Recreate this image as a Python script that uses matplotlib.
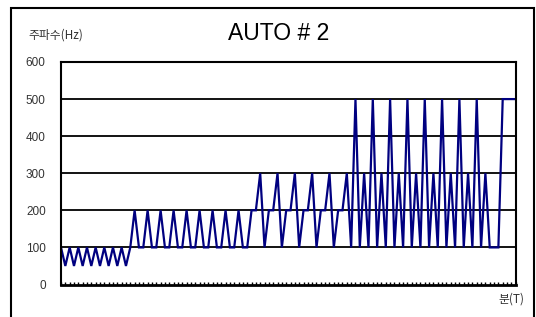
import matplotlib.pyplot as plt
from matplotlib.patches import Rectangle

# frequency (Hz) per time step
freq_low = [100, 50, 100, 50, 100, 50, 100, 50, 100, 50, 100, 50, 100, 50, 100, 50]
freq_mid = [100,
            200, 100, 100, 200, 100, 100, 200, 100, 100, 200, 100, 100,
            200, 100, 100, 200, 100, 100, 200, 100, 100, 200, 100, 100, 200,
            100, 100, 200, 200]
freq_high = [300, 100, 200, 200, 300, 100, 200, 200, 300, 100, 200, 200,
             300, 100, 200, 200, 300, 100, 200, 200, 300, 100]
freq_top = [500, 100, 300, 100, 500, 100, 300, 100, 500, 100, 300, 100,
            500, 100, 300, 100, 500, 100, 300, 100, 500, 100, 300, 100,
            500, 100, 300, 100, 500, 100, 300,
            100, 100, 100, 500, 500, 500, 500]
freq = freq_low + freq_mid + freq_high + freq_top
steps = list(range(len(freq)))

y_ticks = [0, 100, 200, 300, 400, 500, 600]

title = 'AUTO # 2'
y_label = '주파수(Hz)'
x_label = '분(T)'

kr = ['Noto Sans CJK KR', 'DejaVu Sans']

fig = plt.figure(figsize=(5.36, 3.17), dpi=100)
W, H = 536.0, 317.0

# outer chart frame
fig.patches.append(Rectangle((10.5 / W, -0.05), (533.5 - 10.5) / W, 1.05 - 7.5 / H,
                             transform=fig.transFigure, fill=False, ec='black', lw=1.5))

ax = fig.add_axes([61 / W, 1 - 284.5 / H, (515.7 - 61) / W, (284.5 - 62) / H])

ax.plot(steps, freq, color='#000080', lw=1.6, solid_joinstyle='miter')

ax.set_xlim(0, len(freq) - 1)
ax.set_ylim(0, 600)
ax.set_yticks(y_ticks)
ax.set_yticklabels([str(v) for v in y_ticks], fontsize=8.5, color='#333333',
                   family='Liberation Sans')
ax.tick_params(axis='y', length=0, pad=11)
ax.set_xticks(steps)
ax.set_xticklabels([])
ax.tick_params(axis='x', direction='in', length=2.5, width=1, color='black')

for v in y_ticks[1:-1]:
    ax.axhline(v, color='black', lw=1.3, zorder=1)

for s in ax.spines.values():
    s.set_linewidth(1.5)
ax.spines['bottom'].set_linewidth(2)

fig.text(279 / W, 1 - 33 / H, title, ha='center', va='center', fontsize=16.5,
         family='Liberation Sans')
fig.text(28 / W, 1 - 35 / H, y_label, ha='left', va='center', fontsize=8.5,
         color='#333333', family=kr)
fig.text(511 / W, 1 - 299 / H, x_label, ha='center', va='center', fontsize=8.5,
         color='#333333', family=kr)

fig.savefig('out.png', dpi=100)
